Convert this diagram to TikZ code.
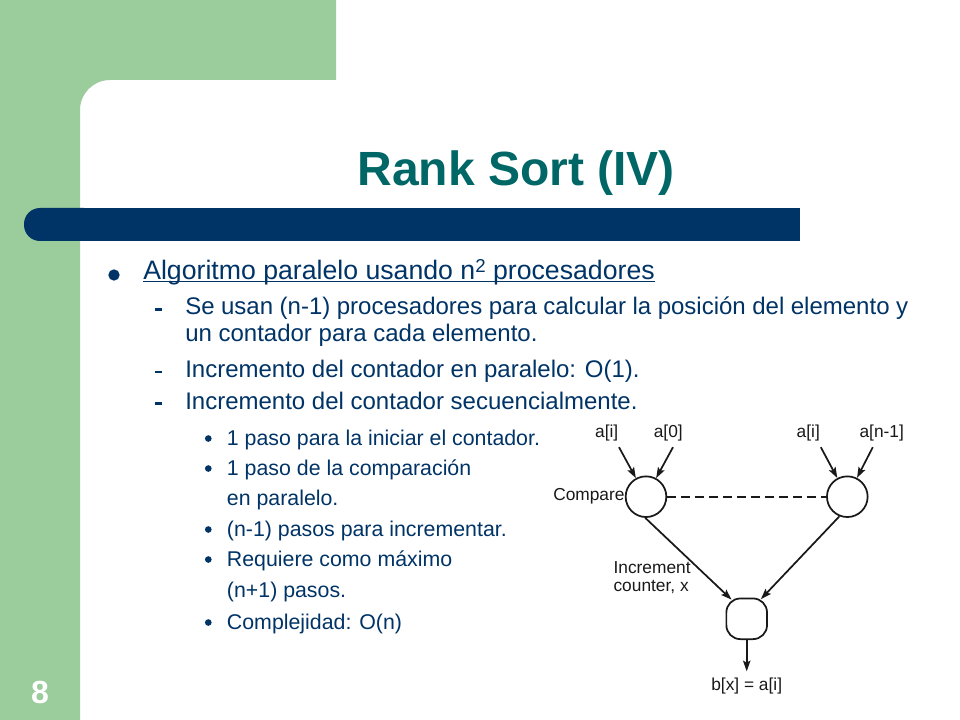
\documentclass[tikz,border=0pt]{standalone}
\usepackage{fontspec}
\setmainfont{Liberation Sans}
\usepackage{xcolor}
\usepackage{tikz}
\usetikzlibrary{positioning,calc,arrows.meta}
\definecolor{SlideGreen}{RGB}{155,204,155}
\definecolor{SlideNavy}{RGB}{0,51,102}
\definecolor{TitleTeal}{RGB}{0,102,102}
\definecolor{DiagInk}{RGB}{25,25,25}
\tikzset{
    txtnode/.style={anchor=base west, inner sep=0pt, text=SlideNavy},
    lvlone/.style={txtnode, font=\fontsize{20}{24}\selectfont},
    lvltwo/.style={txtnode, font=\fontsize{18}{21}\selectfont},
    lvlthree/.style={txtnode, font=\fontsize{16}{19}\selectfont},
    bigdot/.style={circle, fill=SlideNavy, inner sep=0pt, minimum size=8.5pt},
    smalldot/.style={circle, fill=SlideNavy, inner sep=0pt, minimum size=5pt},
    dashmark/.style={rectangle, fill=SlideNavy, inner sep=0pt, minimum width=5pt, minimum height=1.6pt}
}

\begin{document}
\begin{tikzpicture}[
        x=0.75pt, y=-0.75pt,
        % Nodos del diagrama
        proc/.style={circle, draw=DiagInk, line width=1.3pt, minimum size=30.5pt, inner sep=0pt},
        accum/.style={rectangle, rounded corners=10.5pt, draw=DiagInk, line width=1.3pt, minimum size=30.5pt, inner sep=0pt},
        lbl/.style={inner sep=0pt, text=DiagInk, font=\fontsize{13}{14}\selectfont},
        % Flechas
        arr/.style={draw=DiagInk, line width=1.3pt, -{Stealth[length=8pt, width=5.5pt, inset=1.5pt]}},
        link/.style={draw=DiagInk, line width=1.2pt, dash pattern=on 6.5pt off 4pt}
    ]
    \useasboundingbox (0,0) rectangle (960,720);

    % --- Fondo ---
    \fill[white] (0,0) rectangle (960,720);
    \fill[SlideGreen] (0,0) -- (336,0) -- (336,80) -- (110,80)
        arc[start angle=270, end angle=180, radius=30] -- (80,720) -- (0,720) -- cycle;
    \fill[SlideNavy, rounded corners=12pt] (24,208) rectangle (100,241);
    \fill[SlideNavy] (60,208) rectangle (800,241);

    % Titulo y numero
    \node[font=\bfseries\fontsize{36}{40}\selectfont, text=TitleTeal, anchor=base, inner sep=0pt] (title) at (516.3,185.7) {Rank Sort (IV)};
    \node[font=\bfseries\fontsize{24}{28}\selectfont, text=white, anchor=base, inner sep=0pt] (pagenum) at (40,703) {8};

    % --- Texto ---
    \node[bigdot] (b1) at (114,275) {};
    \node[lvlone] (l1) at (143,279.3) {Algoritmo paralelo usando n\raisebox{5pt}{\fontsize{14}{14}\selectfont 2} procesadores};
    \draw[SlideNavy, line width=1.2pt] ([yshift=-1.6pt]l1.base west) -- ([yshift=-1.6pt]l1.base east);

    \node[dashmark] (d1) at (158.5,309.5) {};
    \node[lvltwo] (l2a) at (185,315) {\makebox[542.25pt][s]{Se usan (n-1) procesadores para calcular la posición del elemento y}};
    \node[lvltwo] (l2b) at (185,341.7) {un contador para cada elemento.};
    \node[dashmark] (d2) at (158.5,372) {};
    \node[lvltwo] (l2c) at (185,377.7) {Incremento del contador en paralelo: O(1).};
    \node[dashmark] (d3) at (158.5,403.5) {};
    \node[lvltwo] (l2d) at (185,409.3) {Incremento del contador secuencialmente.};

    \node[smalldot] (s1) at (208.3,438.5) {};
    \node[lvlthree] (l3a) at (226.7,445) {1 paso para la iniciar el contador.};
    \node[smalldot] (s2) at (208.3,468.5) {};
    \node[lvlthree] (l3b) at (226.7,475) {1 paso de la comparación};
    \node[lvlthree] (l3c) at (226.7,505) {en paralelo.};
    \node[smalldot] (s3) at (208.3,529.5) {};
    \node[lvlthree] (l3d) at (226.7,536) {(n-1) pasos para incrementar.};
    \node[smalldot] (s4) at (208.3,559.5) {};
    \node[lvlthree] (l3e) at (226.7,566) {Requiere como máximo};
    \node[lvlthree] (l3f) at (226.7,597) {(n+1) pasos.};
    \node[smalldot] (s5) at (208.3,622.5) {};
    \node[lvlthree] (l3g) at (226.7,629) {Complejidad: O(n)};

    % --- Diagrama ---
    \node[proc] (cmpL) at (646,496.7) {};
    \node[proc] (cmpR) at (847.3,496.7) {};
    \node[accum] (inc) at (746.7,618.8) {};
    \node[lbl, left=0pt of cmpL] (cmpLbl) {Compare};
    \node[lbl] (inL1) at (606.7,432.7) {a[i]};
    \node[lbl] (inL2) at (668.3,432.7) {a[0]};
    \node[lbl] (inR1) at (808.3,432.7) {a[i]};
    \node[lbl] (inR2) at (881.7,432.7) {a[n-1]};
    \node[lbl, align=left, anchor=base west] (incLbl) at (613.3,591.7) {Increment\\counter, x};
    \node[lbl, below=28pt of inc] (out) {b[x] = a[i]};

    \draw[arr] ($(cmpL)+(-27,-49.5)$) -- (cmpL);
    \draw[arr] ($(cmpL)+(27,-49.5)$) -- (cmpL);
    \draw[arr] ($(cmpR)+(-26.5,-49.5)$) -- (cmpR);
    \draw[arr] ($(cmpR)+(25.5,-49.5)$) -- (cmpR);
    \draw[link] (cmpL) -- (cmpR);
    \draw[arr] (cmpL.-92) -- ($(inc.north west)+(6,2)$);
    \draw[arr] (cmpR.-112) -- ($(inc.north east)+(-7,1.5)$);
    \draw[arr, shorten >=4.5pt] (inc) -- (out);

\end{tikzpicture}
\end{document}
